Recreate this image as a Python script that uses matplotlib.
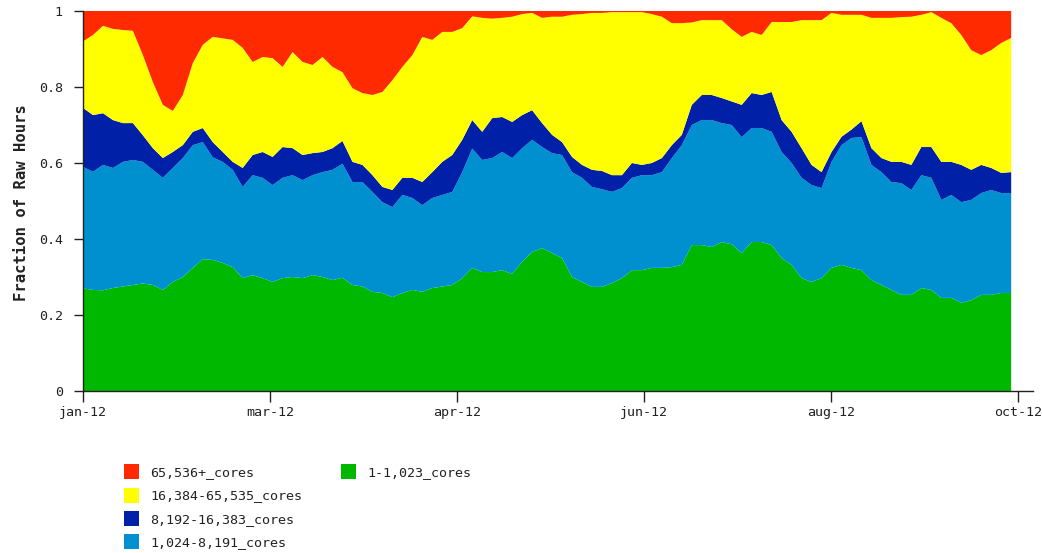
import numpy as np
import matplotlib
matplotlib.use("Agg")
import matplotlib.pyplot as plt
from matplotlib.patches import Rectangle

# ---------------- data ----------------
series_labels = ["1-1,023_cores", "1,024-8,191_cores", "8,192-16,383_cores",
                 "16,384-65,535_cores", "65,536+_cores"]
series_colors = ["#00b800", "#0090d0", "#0020a8", "#ffff00", "#ff2a00"]

tick_labels = ["jan-12", "mar-12", "apr-12", "jun-12", "aug-12", "oct-12"]

cores_1_1023 = [.270, .266, .265, .271, .275, .279, .283, .279, .266, .287,
                .300, .324, .347, .345, .337, .326, .297, .305, .297, .287,
                .297, .300, .297, .305, .300, .292, .298, .279, .275, .261,
                .258, .247, .258, .266, .261, .271, .275, .279, .297, .324,
                .313, .313, .318, .308, .340, .366, .376, .363, .350, .300,
                .287, .274, .274, .284, .297, .318, .318, .324, .324, .326,
                .332, .384, .384, .379, .392, .386, .363, .392, .392, .384,
                .350, .332, .297, .287, .297, .324, .332, .324, .318, .292,
                .279, .266, .253, .253, .271, .266, .245, .245, .232, .239,
                .253, .253, .258, .258]

cores_1024_8191 = [.320, .311, .330, .316, .328, .329, .320, .303, .295, .300,
                   .313, .323, .308, .270, .266, .256, .240, .263, .264, .255,
                   .264, .268, .258, .263, .276, .290, .300, .271, .275, .263,
                   .239, .237, .258, .242, .228, .237, .241, .245, .279, .314,
                   .295, .300, .311, .305, .299, .295, .266, .263, .271, .276,
                   .274, .263, .257, .240, .237, .243, .250, .244, .252, .287,
                   .315, .316, .329, .334, .313, .314, .305, .300, .300, .298,
                   .279, .268, .264, .255, .237, .279, .315, .342, .350, .303,
                   .297, .284, .294, .276, .297, .295, .258, .271, .265, .264,
                   .268, .276, .263, .263]

cores_8192_16383 = [.155, .149, .136, .126, .102, .097, .070, .057, .052, .042,
                    .034, .035, .037, .040, .026, .021, .050, .053, .068, .074,
                    .081, .071, .066, .058, .053, .057, .060, .053, .045, .044,
                    .040, .045, .045, .053, .061, .068, .087, .097, .085, .075,
                    .074, .105, .092, .095, .087, .078, .063, .048, .034, .040,
                    .034, .045, .048, .044, .034, .039, .027, .032, .037, .034,
                    .027, .053, .066, .066, .066, .062, .085, .092, .087, .105,
                    .084, .082, .078, .053, .042, .026, .022, .022, .042, .044,
                    .037, .053, .056, .066, .074, .081, .100, .087, .098, .079,
                    .074, .058, .053, .055]

cores_16384_65535 = [.175, .211, .230, .240, .245, .243, .211, .174, .140, .108,
                     .132, .181, .219, .277, .299, .321, .316, .245, .250, .260,
                     .211, .253, .245, .232, .250, .214, .181, .194, .189, .211,
                     .250, .289, .292, .323, .382, .348, .342, .324, .294, .273,
                     .300, .262, .261, .277, .266, .256, .277, .311, .330, .374,
                     .397, .413, .416, .429, .429, .397, .402, .392, .372, .321,
                     .294, .217, .197, .197, .205, .190, .179, .161, .158, .184,
                     .258, .289, .337, .381, .400, .366, .321, .302, .280, .343,
                     .369, .379, .381, .390, .348, .355, .379, .365, .342, .315,
                     .289, .310, .342, .353]

cores_65536_plus = [.080, .063, .039, .047, .050, .052, .116, .187, .247, .263,
                    .221, .137, .089, .068, .072, .076, .097, .134, .121, .124,
                    .147, .108, .134, .142, .121, .147, .161, .203, .216, .221,
                    .213, .182, .147, .116, .068, .076, .055, .055, .045, .014,
                    .018, .020, .018, .015, .008, .005, .018, .015, .015, .010,
                    .008, .005, .005, .003, .003, .003, .003, .008, .015, .032,
                    .032, .030, .024, .024, .024, .048, .068, .055, .063, .029,
                    .029, .029, .024, .024, .024, .005, .010, .010, .010, .018,
                    .018, .018, .016, .015, .010, .003, .018, .032, .063, .103,
                    .116, .103, .084, .071]

# days since 2012-01-01 (samples roughly every 3 days, last on Sep 29)
days = np.linspace(0, 272, len(cores_1_1023))

# ---------------- figure ----------------
W, H = 1042, 553
fig = plt.figure(figsize=(W / 100, H / 100), dpi=100)
ax = fig.add_axes([83 / W, 1 - 391 / H, (1033 - 83) / W, 380 / H])

mono = "DejaVu Sans Mono"
values = [cores_1_1023, cores_1024_8191, cores_8192_16383,
          cores_16384_65535, cores_65536_plus]
ax.stackplot(days, *values, colors=series_colors, labels=series_labels,
             linewidth=0, antialiased=True)

ax.set_xlim(0, 950 / 935 * 274)
ax.set_ylim(0, 1)

ax.set_xticks(np.linspace(0, 274, len(tick_labels)))
ax.set_xticklabels(tick_labels, fontfamily=mono, fontsize=9.6, color="#222222")
ax.set_yticks([0, 0.2, 0.4, 0.6, 0.8, 1.0])
ax.set_yticklabels(["0", "0.2", "0.4", "0.6", "0.8", "1"],
                   fontfamily=mono, fontsize=9.6, color="#222222")
ax.tick_params(axis="x", direction="out", length=8, width=1, pad=3, color="#222222")
ax.tick_params(axis="y", direction="out", length=6.5, width=1, pad=8, color="#222222")

for s in ["top", "right"]:
    ax.spines[s].set_visible(False)
for s in ["left", "bottom"]:
    ax.spines[s].set_color("#222222")
    ax.spines[s].set_linewidth(1)

fig.text(21.5 / W, 1 - 203 / H, "Fraction of Raw Hours", rotation=90,
         ha="center", va="center", fontfamily=mono, fontweight="bold",
         fontsize=11.2, color="#222222")

# ---------------- legend (manual, 2 columns: 4 + 1) ----------------
legend_order = [4, 3, 2, 1, 0]
col_x = [124, 341]
row_y = [471.5, 495, 518.5, 541.5]
for k, idx in enumerate(legend_order):
    col = 0 if k < 4 else 1
    row = k if k < 4 else 0
    x0 = col_x[col]
    yc = row_y[row]
    fig.add_artist(Rectangle((x0 / W, 1 - (yc + 7.5) / H), 15 / W, 15 / H,
                             transform=fig.transFigure,
                             facecolor=series_colors[idx], edgecolor="none"))
    fig.text((x0 + 26) / W, 1 - (yc + 1) / H, series_labels[idx],
             ha="left", va="center", fontfamily=mono, fontsize=9.6,
             color="#222222")

fig.savefig("out.png", dpi=100, facecolor="white")
